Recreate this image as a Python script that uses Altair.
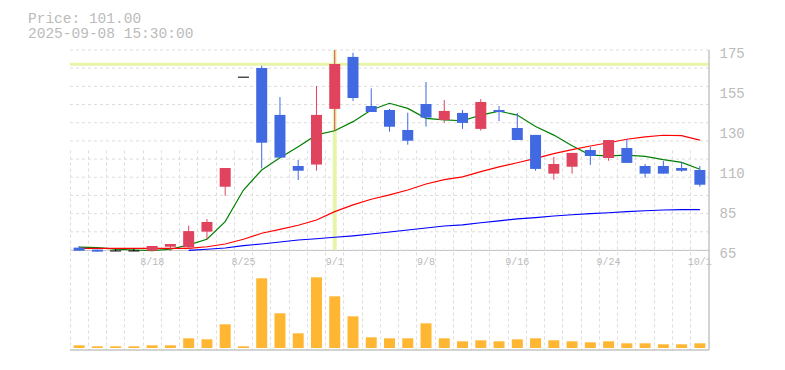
import altair as alt
import pandas as pd

# ---------------- data ----------------
dates = ["8/12", "8/13", "8/14", "8/15", "8/18", "8/19", "8/20", "8/21", "8/22",
         "8/25", "8/26", "8/27", "8/28", "8/29",
         "9/1", "9/2", "9/3", "9/4", "9/5",
         "9/8", "9/9", "9/10", "9/11", "9/12",
         "9/16", "9/17", "9/18", "9/19",
         "9/22", "9/24", "9/25", "9/26",
         "9/29", "9/30", "10/1"]
label_dates = ["8/18", "8/25", "9/1", "9/8", "9/16", "9/24", "10/1"]

open_ = [66.3, 65.2, 64.5, 64.5, 64.6, 66.8, 66.5, 75.1, 99.8,
         160.0, 165.1, 139.3, 111.2, 112.0,
         142.6, 171.2, 144.2, 142.0, 131.0,
         145.3, 136.5, 140.4, 131.6, 142.0,
         132.1, 128.3, 107.0, 110.8,
         120.0, 115.6, 121.1, 111.2,
         111.2, 110.1, 109.0]
high = [67.2, 65.2, 65.5, 65.9, 67.2, 68.3, 78.4, 82.0, 110.1,
        160.0, 166.4, 149.1, 114.5, 155.2,
        175.0, 173.5, 153.9, 142.6, 140.5,
        157.4, 147.5, 142.0, 148.0, 144.2,
        140.4, 128.3, 116.2, 118.4,
        121.7, 125.5, 126.1, 112.3,
        114.0, 113.4, 111.2]
low = [64.6, 64.1, 64.5, 64.5, 64.6, 64.6, 65.7, 71.0, 94.9,
       160.0, 109.9, 115.8, 103.5, 108.6,
       130.6, 147.0, 140.9, 130.1, 122.9,
       132.8, 135.0, 131.6, 130.6, 135.9,
       125.5, 108.6, 103.7, 107.0,
       111.8, 114.1, 112.9, 104.8,
       107.0, 108.0, 99.8]
close = [64.6, 64.1, 64.5, 64.5, 67.2, 68.3, 75.4, 80.4, 110.1,
         160.0, 124.0, 115.8, 108.6, 139.3,
         167.3, 148.6, 140.9, 132.8, 125.1,
         137.8, 141.5, 134.9, 146.4, 140.9,
         125.5, 109.6, 112.3, 118.4,
         116.7, 125.5, 112.9, 107.0,
         107.0, 108.6, 100.9]
ma_short = [66.6, 66.3, 65.5, 65.0, 64.7, 65.4, 67.8, 70.9, 80.6,
            98.0, 109.0, 115.8, 121.8, 128.3,
            130.6, 135.6, 142.0, 145.7, 142.9,
            137.4, 136.6, 136.1, 139.2, 141.4,
            139.2, 132.9, 128.2, 122.3,
            117.2, 116.8, 117.2, 116.5,
            114.7, 113.2, 109.4]
ma_mid = [65.9, 65.9, 65.9, 65.9, 65.9, 65.9, 65.9, 66.8, 68.3,
          70.9, 74.2, 76.3, 78.6, 81.5,
          86.1, 89.8, 92.9, 95.3, 98.0,
          101.3, 103.7, 105.2, 108.1, 110.7,
          113.0, 115.4, 118.0, 120.2,
          122.2, 124.0, 125.9, 127.2,
          128.1, 127.9, 125.4]
ma_long = [None, None, None, None, None, None, 64.8, 65.4, 66.1,
           67.4, 68.3, 69.4, 70.5, 71.2,
           72.0, 72.8, 73.8, 74.9, 76.0,
           77.1, 78.2, 78.8, 80.0, 81.0,
           82.1, 82.8, 83.7, 84.4,
           85.0, 85.5, 86.1, 86.6,
           87.0, 87.2, 87.2]
volume = [27, 17, 17, 17, 27, 27, 97, 87, 237,
          17, 697, 347, 147, 707,
          517, 317, 107, 97, 97,
          247, 97, 67, 77, 67,
          87, 97, 77, 67,
          57, 67, 47, 47,
          37, 37, 47]

price_domain = [65, 175]
price_ticks = [65, 87, 109, 131, 153, 175]
price_grid = [65, 75, 85, 95, 105, 115, 125, 135, 145, 155, 165, 175]
volume_domain = [0, 1000]
cursor_date = ["9/1"]
cursor_price = [167.1]
title_lines = ["Price: 101.00", "2025-09-08 15:30:00"]

df = pd.DataFrame({"date": dates, "open": open_, "high": high, "low": low,
                   "close": close, "ma_short": ma_short, "ma_mid": ma_mid,
                   "ma_long": ma_long, "volume": volume})
df["dir"] = ["up" if c > o else ("down" if c < o else "flat")
             for o, c in zip(open_, close)]

# ---------------- styling ----------------
W, H = 639, 300
MONO = "Liberation Mono"
TXT = "#bbbbbb"
UP, DOWN = "#e0435e", "#4169e1"

label_list = "[" + ",".join("'%s'" % d for d in label_dates) + "]"

xscale = alt.Scale(domain=dates, paddingInner=0, paddingOuter=0)
x_axis = alt.Axis(values=dates, bandPosition=0, grid=True, gridDash=[3, 3],
                  gridColor="#dddddd", gridWidth=1, ticks=False,
                  domain=True, domainColor="#c4c4c4", domainWidth=1,
                  offset=-100, orient="bottom",
                  labelExpr="indexof(%s, datum.value) >= 0 ? datum.value : ''" % label_list,
                  labelAlign="center", labelAngle=0, labelBaseline="top",
                  labelFont=MONO, labelFontSize=10, labelColor=TXT,
                  labelPadding=6, labelOverlap=False, title=None)
X = alt.X("date:N", sort=dates, scale=xscale, title=None)
Xax = alt.X("date:N", sort=dates, scale=xscale, axis=x_axis, title=None)

yscale = alt.Scale(domain=price_domain, range=[200, 0], zero=False, nice=False)
y_axis = alt.Axis(values=price_ticks, orient="right", grid=False, ticks=False,
                  domain=False, labelExpr="round(datum.value / 5) * 5",
                  labelPadding=10, labelOffset=3, labelFont=MONO,
                  labelFontSize=14, labelColor=TXT, labelAlign="left",
                  labelBaseline="middle", title=None)

cscale = alt.Scale(domain=["up", "down", "flat"], range=[UP, DOWN, "#000000"])

hgrid = alt.Chart(pd.DataFrame({"g": price_grid})).mark_rule(
    color="#dddddd", strokeDash=[3, 3], strokeWidth=1
).encode(y=alt.Y("g:Q", scale=yscale, axis=y_axis, title=None))

cur = pd.DataFrame({"date": cursor_date, "price": cursor_price})
hcur = alt.Chart(cur).mark_rule(color="#e6f5a8", strokeWidth=3).encode(
    y=alt.Y("price:Q", scale=yscale, title=None))
vcur = alt.Chart(cur).mark_rule(color="#e6f5a8", strokeWidth=4).encode(
    x=X, y=alt.datum(price_domain[1]), y2=alt.datum(price_domain[0]))

base = alt.Chart(df)
ma1 = base.mark_line(color="#008000", strokeWidth=1.2).encode(
    x=X, y=alt.Y("ma_short:Q", scale=yscale, title=None))
ma2 = base.mark_line(color="#ff0000", strokeWidth=1.2).encode(
    x=X, y=alt.Y("ma_mid:Q", scale=yscale, title=None))
ma3 = base.mark_line(color="#0000ff", strokeWidth=1.2).encode(
    x=X, y=alt.Y("ma_long:Q", scale=yscale, title=None))

wick = base.mark_rule(strokeWidth=1).encode(
    x=X, y=alt.Y("low:Q", scale=yscale, title=None), y2="high:Q",
    color=alt.Color("dir:N", scale=cscale, legend=None))
body = base.transform_filter("datum.dir != 'flat'").mark_bar(width=11).encode(
    x=Xax, y=alt.Y("open:Q", scale=yscale, title=None), y2="close:Q",
    color=alt.Color("dir:N", scale=cscale, legend=None))
doji = base.transform_filter("datum.dir == 'flat'").mark_tick(
    orient="horizontal", size=11, thickness=1.5, color="#000000").encode(
    x=X, y=alt.Y("close:Q", scale=yscale, title=None))

price = alt.layer(hgrid, hcur, vcur, ma1, ma2, ma3, wick, body, doji)

vol = base.mark_bar(width=11, color="#ffb733").encode(
    x=X, y=alt.Y("volume:Q", scale=alt.Scale(domain=volume_domain, range=[298, 198]),
                 axis=None, title=None))

one = pd.DataFrame({"a": [0]})
frame_r = alt.Chart(one).mark_rule(color="#c4c4c4", strokeWidth=1.5).encode(
    x=alt.value(W), y=alt.value(0), y2=alt.value(H))
frame_b = alt.Chart(one).mark_rule(color="#c4c4c4", strokeWidth=1.5).encode(
    x=alt.value(0), x2=alt.value(W), y=alt.value(H))
title = alt.Chart(one).mark_text(
    text=title_lines, align="left", baseline="alphabetic", font=MONO,
    fontSize=14.5, color=TXT, lineHeight=15
).encode(x=alt.value(-42), y=alt.value(-27))

chart = alt.layer(price, vol, frame_r, frame_b, title).resolve_scale(
    y="independent"
).properties(
    width=W, height=H,
    padding={"left": 62, "top": 42, "right": 50, "bottom": 12},
    autosize=alt.AutoSizeParams(type="none"),
).configure_view(stroke=None)

chart.save("out.html", embed_options={"renderer": "svg", "actions": False})
